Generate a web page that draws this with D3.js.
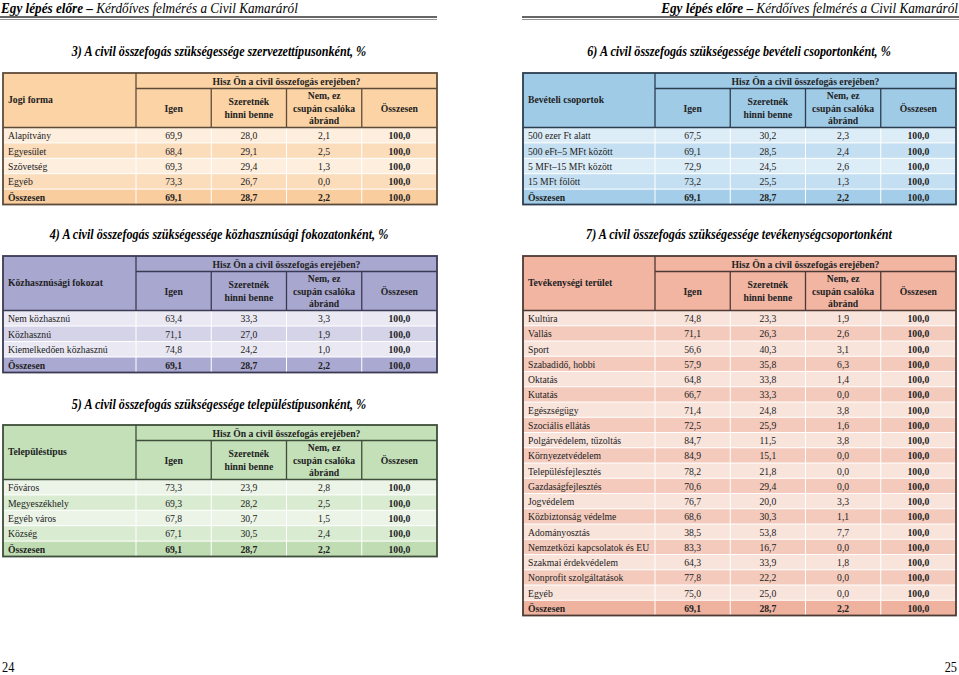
<!DOCTYPE html>
<html>
<head>
<meta charset="utf-8">
<script src="https://cdn.jsdelivr.net/npm/d3@7"></script>
<style>
  body { margin: 0; background: #fff; }
  text { font-family: "Liberation Serif", "Times New Roman", Times, "DejaVu Serif", serif; }
</style>
</head>
<body>
<svg id="page" width="959" height="675"></svg>
<script>
// column headings shared by all tables
var colHeads = [["Igen"], ["Szeretnék", "hinni benne"], ["Nem, ez", "csupán csalóka", "ábránd"], ["Összesen"]];
var question = "Hisz Ön a civil összefogás erejében?";

// 3) szervezettípus
var t3Rows = ["Alapítvány", "Egyesület", "Szövetség", "Egyéb", "Összesen"];
var t3Igen = [69.9, 68.4, 69.3, 73.3, 69.1];
var t3Szeretnek = [28.0, 29.1, 29.4, 26.7, 28.7];
var t3Nem = [2.1, 2.5, 1.3, 0.0, 2.2];

// 4) közhasznúsági fokozat
var t4Rows = ["Nem közhasznú", "Közhasznú", "Kiemelkedően közhasznú", "Összesen"];
var t4Igen = [63.4, 71.1, 74.8, 69.1];
var t4Szeretnek = [33.3, 27.0, 24.2, 28.7];
var t4Nem = [3.3, 1.9, 1.0, 2.2];

// 5) településtípus
var t5Rows = ["Főváros", "Megyeszékhely", "Egyéb város", "Község", "Összesen"];
var t5Igen = [73.3, 69.3, 67.8, 67.1, 69.1];
var t5Szeretnek = [23.9, 28.2, 30.7, 30.5, 28.7];
var t5Nem = [2.8, 2.5, 1.5, 2.4, 2.2];

// 6) bevételi csoport
var t6Rows = ["500 ezer Ft alatt", "500 eFt–5 MFt között", "5 MFt–15 MFt között", "15 MFt fölött", "Összesen"];
var t6Igen = [67.5, 69.1, 72.9, 73.2, 69.1];
var t6Szeretnek = [30.2, 28.5, 24.5, 25.5, 28.7];
var t6Nem = [2.3, 2.4, 2.6, 1.3, 2.2];

// 7) tevékenységi terület
var t7Rows = ["Kultúra", "Vallás", "Sport", "Szabadidő, hobbi", "Oktatás", "Kutatás", "Egészségügy",
  "Szociális ellátás", "Polgárvédelem, tűzoltás", "Környezetvédelem", "Településfejlesztés",
  "Gazdaságfejlesztés", "Jogvédelem", "Közbiztonság védelme", "Adományosztás",
  "Nemzetközi kapcsolatok és EU", "Szakmai érdekvédelem", "Nonprofit szolgáltatások", "Egyéb", "Összesen"];
var t7Igen = [74.8, 71.1, 56.6, 57.9, 64.8, 66.7, 71.4, 72.5, 84.7, 84.9, 78.2, 70.6, 76.7, 68.6, 38.5, 83.3, 64.3, 77.8, 75.0, 69.1];
var t7Szeretnek = [23.3, 26.3, 40.3, 35.8, 33.8, 33.3, 24.8, 25.9, 11.5, 15.1, 21.8, 29.4, 20.0, 30.3, 53.8, 16.7, 33.9, 22.2, 25.0, 28.7];
var t7Nem = [1.9, 2.6, 3.1, 6.3, 1.4, 0.0, 3.8, 1.6, 3.8, 0.0, 0.0, 0.0, 3.3, 1.1, 7.7, 0.0, 1.8, 0.0, 0.0, 2.2];

var svg = d3.select("#page");
var fmt = function (v) { return d3.format(".1f")(v).replace(".", ","); };
var squeeze = 0.88; // the scanned page is a bit narrower than plain Times

// running header on both pages
function pageHeader(x1, x2, anchor) {
  var g = svg.append("g");
  var t = g.append("text")
    .attr("x", anchor === "start" ? x1 + 1 : x2 - 1)
    .attr("y", 13)
    .attr("text-anchor", anchor)
    .style("font-size", "15px");
  t.append("tspan").attr("font-weight", "bold").attr("font-style", "italic").text("Egy lépés előre");
  t.append("tspan").attr("font-weight", "bold").text(" – ");
  t.append("tspan").attr("font-style", "italic").text("Kérdőíves felmérés a Civil Kamaráról");
  g.append("line").attr("x1", x1).attr("x2", x2).attr("y1", 17).attr("y2", 17)
    .attr("stroke", "#333").attr("stroke-width", 1.6);
  g.append("line").attr("x1", x1).attr("x2", x2).attr("y1", 19.5).attr("y2", 19.5)
    .attr("stroke", "#777").attr("stroke-width", 0.8);
}
pageHeader(0, 437, "start");
pageHeader(522, 959, "end");

function title(txt, cx, y) {
  svg.append("text").attr("x", cx).attr("y", y).attr("text-anchor", "middle")
    .attr("font-weight", "bold").attr("font-style", "italic")
    .style("font-size", "13.8px").text(txt);
}

function drawTable(o) {
  var n = o.rows.length;
  var data = o.rows.map(function (r, i) {
    return { label: r, vals: [o.igen[i], o.szer[i], o.nem[i], 100] };
  });
  var hQ = 15.5, hHead = 39;
  var yTop = o.y, yHead = yTop + hQ, yData = yHead + hHead;
  var x = d3.scaleBand().domain(d3.range(4)).range([o.x1, o.x2]);
  var y = d3.scaleBand().domain(d3.range(n)).range([yData, yData + n * o.rh]);
  var g = svg.append("g").style("font-size", "11px");

  // header background
  g.append("rect").attr("x", o.x0).attr("y", yTop).attr("width", o.x2 - o.x0).attr("height", yData - yTop)
    .attr("fill", o.c.head);

  // data rows
  var rows = g.selectAll("g.row").data(data).enter().append("g").attr("class", "row");
  rows.append("rect")
    .attr("x", o.x0).attr("y", function (d, i) { return y(i); })
    .attr("width", o.x2 - o.x0).attr("height", y.bandwidth())
    .attr("fill", function (d, i) { return i === n - 1 ? o.c.total : (i % 2 ? o.c.dark : o.c.light); });
  // white separators
  g.selectAll("line.hs").data(d3.range(1, n)).enter().append("line")
    .attr("x1", o.x0).attr("x2", o.x2)
    .attr("y1", function (i) { return y(i); }).attr("y2", function (i) { return y(i); })
    .attr("stroke", "#fff").attr("stroke-width", 1);
  g.selectAll("line.vs").data(d3.range(4)).enter().append("line")
    .attr("x1", function (i) { return x(i); }).attr("x2", function (i) { return x(i); })
    .attr("y1", yData).attr("y2", yData + n * o.rh)
    .attr("stroke", "#fff").attr("stroke-width", 1);

  rows.append("text")
    .attr("x", o.x0 + 5).attr("y", function (d, i) { return y(i) + y.bandwidth() / 2 + 4; })
    .attr("font-weight", function (d, i) { return i === n - 1 ? "bold" : null; })
    .attr("fill", "#222")
    .text(function (d) { return d.label; });
  rows.each(function (d, i) {
    d3.select(this).selectAll("text.v").data(d.vals).enter().append("text")
      .attr("x", function (v, j) { return x(j) + x.bandwidth() / 2; })
      .attr("y", y(i) + y.bandwidth() / 2 + 4)
      .attr("text-anchor", "middle")
      .attr("font-weight", function (v, j) { return (i === n - 1 || j === 3) ? "bold" : null; })
      .attr("fill", "#222")
      .text(fmt);
  });

  // header lines
  var lc = o.c.line;
  g.append("line").attr("x1", o.x1).attr("x2", o.x1).attr("y1", yTop).attr("y2", yData)
    .attr("stroke", lc).attr("stroke-width", 1.3);
  g.append("line").attr("x1", o.x1).attr("x2", o.x2).attr("y1", yHead).attr("y2", yHead)
    .attr("stroke", lc).attr("stroke-width", 1.3);
  g.selectAll("line.hc").data(d3.range(1, 4)).enter().append("line")
    .attr("x1", function (i) { return x(i); }).attr("x2", function (i) { return x(i); })
    .attr("y1", yHead).attr("y2", yData).attr("stroke", lc).attr("stroke-width", 1.3);
  g.append("line").attr("x1", o.x0).attr("x2", o.x2).attr("y1", yData).attr("y2", yData)
    .attr("stroke", lc).attr("stroke-width", 1.3);

  // header texts
  g.append("text").attr("x", o.x0 + 5).attr("y", yTop + (yData - yTop) / 2 + 3)
    .attr("font-weight", "bold").attr("fill", "#222").text(o.head);
  g.append("text").attr("x", (o.x1 + o.x2) / 2).attr("y", yTop + hQ / 2 + 4)
    .attr("text-anchor", "middle").attr("font-weight", "bold").attr("fill", "#222").text(question);
  colHeads.forEach(function (lines, j) {
    var lh = 12.5, cy = yHead + hHead / 2 + 3.5;
    lines.forEach(function (l, k) {
      g.append("text").attr("x", x(j) + x.bandwidth() / 2)
        .attr("y", cy + (k - (lines.length - 1) / 2) * lh)
        .attr("text-anchor", "middle").attr("font-weight", "bold").attr("fill", "#222").text(l);
    });
  });

  // outer frame
  g.append("rect").attr("x", o.x0).attr("y", yTop).attr("width", o.x2 - o.x0)
    .attr("height", yData + n * o.rh - yTop)
    .attr("fill", "none").attr("stroke", lc).attr("stroke-width", 1.8);
}

var orange = { head: "#fcd3a4", light: "#fdeedd", dark: "#fbdcbb", total: "#f9cd9e", line: "#5e4c3a" };
var blue = { head: "#9fcbe7", light: "#ddedf8", dark: "#c3dff1", total: "#a3cde8", line: "#2b3d4f" };
var purple = { head: "#a8a7cf", light: "#e9e8f3", dark: "#d4d3e8", total: "#aaa9d1", line: "#3b3a55" };
var green = { head: "#c3e0b9", light: "#ebf4e7", dark: "#d9ebd1", total: "#bfdcb3", line: "#3e4e3a" };
var salmon = { head: "#f1b5a2", light: "#f9e4dc", dark: "#f3cabc", total: "#efb29f", line: "#4e3a34" };

title("3) A civil összefogás szükségessége szervezettípusonként, %", 219, 56);
drawTable({ x0: 3, x1: 136, x2: 437, y: 73, rh: 15.4, head: "Jogi forma", rows: t3Rows,
  igen: t3Igen, szer: t3Szeretnek, nem: t3Nem, c: orange });

title("4) A civil összefogás szükségessége közhasznúsági fokozatonként, %", 219, 239);
drawTable({ x0: 3, x1: 136, x2: 437, y: 256, rh: 15.5, head: "Közhasznúsági fokozat", rows: t4Rows,
  igen: t4Igen, szer: t4Szeretnek, nem: t4Nem, c: purple });

title("5) A civil összefogás szükségessége településtípusonként, %", 219, 409);
drawTable({ x0: 3, x1: 136, x2: 437, y: 425, rh: 15.4, head: "Településtípus", rows: t5Rows,
  igen: t5Igen, szer: t5Szeretnek, nem: t5Nem, c: green });

title("6) A civil összefogás szükségessége bevételi csoportonként, %", 739, 56);
drawTable({ x0: 523, x1: 655, x2: 956, y: 73, rh: 15.4, head: "Bevételi csoportok", rows: t6Rows,
  igen: t6Igen, szer: t6Szeretnek, nem: t6Nem, c: blue });

title("7) A civil összefogás szükségessége tevékenységcsoportonként", 739, 239);
drawTable({ x0: 523, x1: 655, x2: 956, y: 256, rh: 15.25, head: "Tevékenységi terület", rows: t7Rows,
  igen: t7Igen, szer: t7Szeretnek, nem: t7Nem, c: salmon });

// page numbers
svg.append("text").attr("x", 2).attr("y", 672).style("font-size", "14px").text("24");
svg.append("text").attr("x", 957).attr("y", 672).attr("text-anchor", "end").style("font-size", "14px").text("25");

// narrow every text horizontally around its anchor point
svg.selectAll("text").each(function () {
  var t = d3.select(this), tx = +t.attr("x"), ty = +t.attr("y");
  t.attr("x", 0).attr("y", 0)
    .attr("transform", "translate(" + tx + "," + ty + ") scale(" + squeeze + ",1)");
});
</script>
</body>
</html>
